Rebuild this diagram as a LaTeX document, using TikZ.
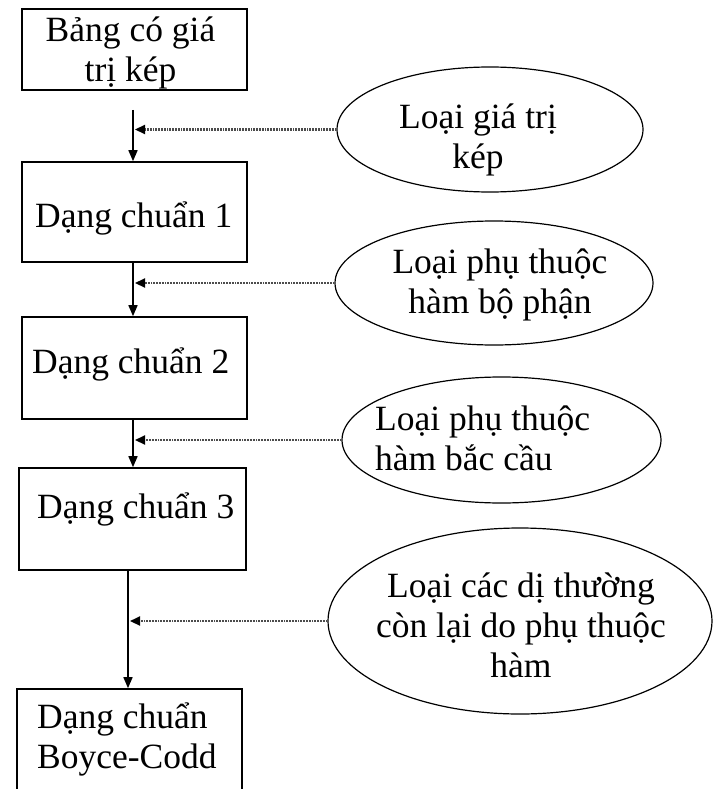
\documentclass[tikz,border=0pt]{standalone}
\usepackage{fontspec}
\setmainfont{Liberation Serif}
\usetikzlibrary{shapes.geometric,arrows.meta}
\begin{document}
\begin{tikzpicture}[x=1pt,y=-1pt,
  boxshape/.style={draw=black,line width=1.6pt,rectangle,inner sep=0pt},
  ovalshape/.style={draw=black,line width=1.2pt,ellipse,inner sep=0pt},
  txt/.style={font=\fontsize{35.5}{40}\selectfont,inner sep=0pt},
  flow/.style={line width=1.5pt,-{Triangle[length=11pt,width=9pt]}},
  hint/.style={draw=black!70,line width=2.2pt,dash pattern=on 1.8pt off 1pt,
    -{Triangle[length=10pt,width=9pt,color=black]},shorten >=2pt}]
\useasboundingbox (0,0) rectangle (717,789);
% boxes
\node[boxshape,minimum width=225pt,minimum height=81pt] (b1) at (134.5,49.5) {};
\node[boxshape,minimum width=225pt,minimum height=100pt] (b2) at (134.5,212) {};
\node[boxshape,minimum width=225pt,minimum height=102pt] (b3) at (134.5,368) {};
\node[boxshape,minimum width=227pt,minimum height=102pt] (b4) at (132.5,519) {};
\node[boxshape,minimum width=225pt,minimum height=110pt] (b5) at (129.5,744) {};
% box texts (multi-line: base = last line)
\node[txt,align=center,anchor=base] (t1) at (130.5,82) {Bảng có giá\\trị kép};
\node[txt,anchor=base west] (t2) at (35,227) {Dạng chuẩn 1};
\node[txt,anchor=base west] (t3) at (32,373) {Dạng chuẩn 2};
\node[txt,anchor=base west] (t4) at (37,518) {Dạng chuẩn 3};
\node[txt,align=left,anchor=base west] (t5) at (37,768) {Dạng chuẩn\\Boyce-Codd};
% ellipses
\node[ovalshape,minimum width=306pt,minimum height=125pt] (e1) at (490,129.5) {};
\node[ovalshape,minimum width=318pt,minimum height=124pt] (e2) at (494,283) {};
\node[ovalshape,minimum width=319pt,minimum height=126pt] (e3) at (501.5,440) {};
\node[ovalshape,minimum width=384pt,minimum height=186pt] (e4) at (520,621) {};
% ellipse texts
\node[txt,align=center,anchor=base] (u1) at (478,168) {Loại giá trị\\kép};
\node[txt,align=center,anchor=base] (u2) at (500,313) {Loại phụ thuộc\\hàm bộ phận};
\node[txt,align=left,anchor=base west] (u3) at (375,470) {Loại phụ thuộc\\hàm bắc cầu};
\node[txt,align=center,anchor=base] (u4) at (521,677) {Loại các dị thường\\còn lại do phụ thuộc\\hàm};
% vertical flow
\coordinate (s1) at (133,110);
\coordinate (s2) at (133,0);
\coordinate (s3) at (133,0);
\coordinate (s4) at (128,0);
\draw[flow] (s1) -- (s1 |- b2.north);
\draw[flow] (s2 |- b2.south) -- (s2 |- b3.north);
\draw[flow] (s3 |- b3.south) -- (s3 |- b4.north);
\draw[flow] (s4 |- b4.south) -- (s4 |- b5.north);
% dotted hints
\draw[hint] (e1.west) -- (e1.west -| s1);
\draw[hint] (e2.west) -- (e2.west -| s2);
\draw[hint] (e3.west) -- (e3.west -| s3);
\draw[hint] (e4.west) -- (e4.west -| s4);
\end{tikzpicture}
\end{document}
